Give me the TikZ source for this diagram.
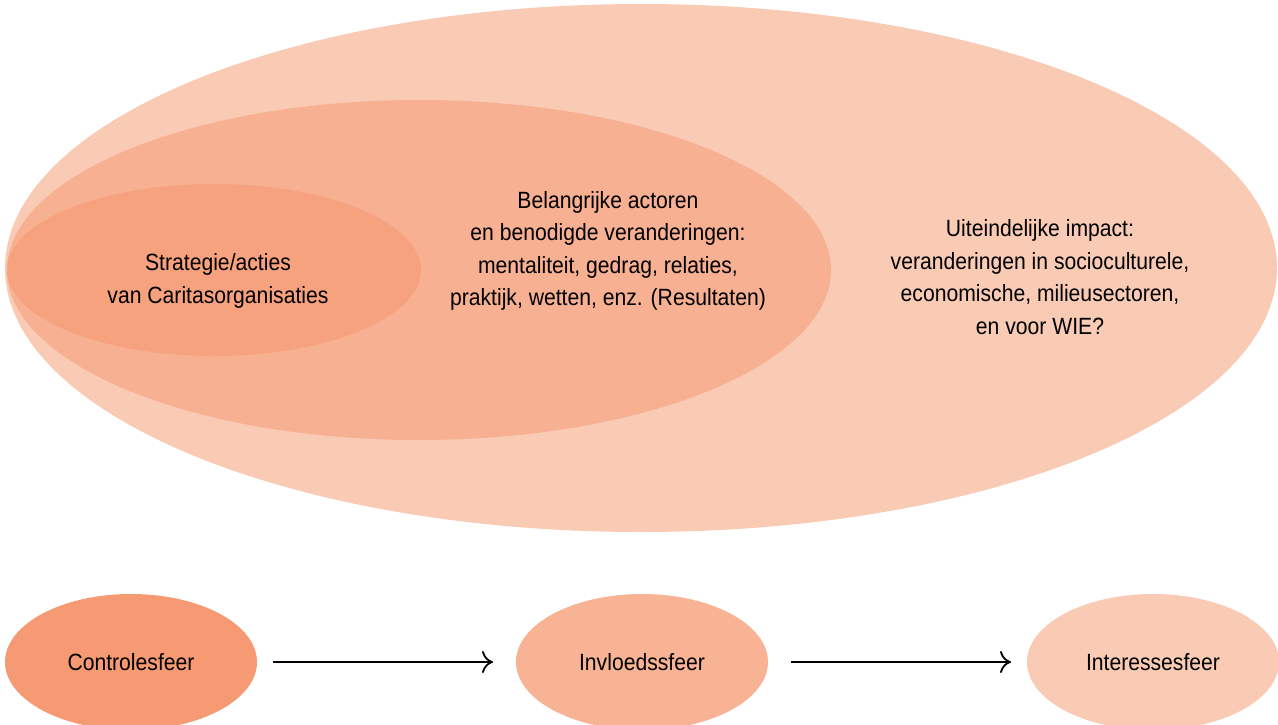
\documentclass[tikz,border=0pt]{standalone}
\usepackage{fontspec}
\setmainfont[FakeStretch=0.9]{Liberation Sans}
\usetikzlibrary{arrows.meta}
\definecolor{cA}{HTML}{F59A72}
\definecolor{cB}{HTML}{F8B394}
\definecolor{cC}{HTML}{F9CBB5}
\definecolor{cS}{HTML}{F6A27F}
\definecolor{cM}{HTML}{F7B092}
\begin{document}
\begin{tikzpicture}[x=1pt,y=-1pt,
  lbl/.style={align=center,font=\fontsize{23.5}{32.5}\selectfont,inner sep=0pt},
  conn/.style={-{To[length=11pt,width=22pt]},line width=1.8pt}]
\useasboundingbox (0,0) rectangle (1278,724);
\fill[cC] (641,268) ellipse [x radius=636, y radius=264];
\fill[cM] (419,270) ellipse [x radius=412, y radius=170];
\fill[cS] (214,270) ellipse [x radius=207, y radius=86];
\node[lbl] (s) at (218,281) {Strategie/acties\\van Caritasorganisaties};
\node[lbl] (m) at (608,251) {Belangrijke actoren\\en benodigde veranderingen:\\mentaliteit, gedrag, relaties,\\praktijk, wetten, enz. (Resultaten)};
\node[lbl] (r) at (1040,277) {Uiteindelijke impact:\\veranderingen in socioculturele,\\economische, milieusectoren,\\en voor WIE?};
\fill[cA] (131,662) ellipse [x radius=126, y radius=68];
\fill[cB] (642,662) ellipse [x radius=126, y radius=68];
\fill[cC] (1153,662) ellipse [x radius=126, y radius=68];
\node[lbl] (c) at (131,662) {Controlesfeer};
\node[lbl] (i) at (642,662) {Invloedssfeer};
\node[lbl] (e) at (1153,662) {Interessesfeer};
\coordinate (a1s) at (273,662);
\coordinate (a1e) at (493,662);
\coordinate (a2s) at (791,662);
\coordinate (a2e) at (1011,662);
\draw[conn] (a1s) -- (a1e);
\draw[conn] (a2s) -- (a2e);
\end{tikzpicture}
\end{document}
